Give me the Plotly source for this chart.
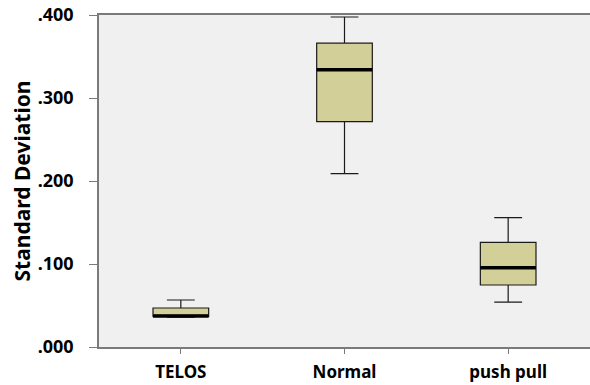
import plotly.graph_objects as go

categories = ["TELOS", "Normal", "push pull"]
lower_whisker = [0.036, 0.209, 0.054]
q1_values = [0.037, 0.2715, 0.0747]
median_values = [0.0375, 0.334, 0.0956]
q3_values = [0.047, 0.366, 0.126]
upper_whisker = [0.0566, 0.3976, 0.1558]

y_tick_vals = [0.0, 0.1, 0.2, 0.3, 0.4]
y_tick_text = [".000", ".100", ".200", ".300", ".400"]

BOX_W = 0.34
FONT = "Noto Sans"

fig = go.Figure()
fig.add_trace(go.Box(
    x=categories,
    q1=q1_values, median=median_values, q3=q3_values,
    lowerfence=lower_whisker, upperfence=upper_whisker,
    fillcolor="#D3CF98",
    line=dict(color="#1a1a1a", width=1.2),
    width=BOX_W,
    whiskerwidth=0.5,
    boxpoints=False,
    hoverinfo="skip",
    showlegend=False,
))

for i, m in enumerate(median_values):
    fig.add_shape(type="line", xref="x", yref="y",
                  x0=i - BOX_W / 2, x1=i + BOX_W / 2, y0=m, y1=m,
                  line=dict(color="black", width=3.5))

fig.update_layout(
    width=590, height=385,
    margin=dict(l=99, r=0, t=15, b=38),
    paper_bgcolor="white",
    plot_bgcolor="#F0F0F0",
    font=dict(family=FONT, color="black"),
)
fig.update_xaxes(
    type="category",
    range=[-0.5, 2.5],
    showgrid=False, zeroline=False,
    showline=True, linecolor="#7a7a7a", linewidth=1.5, mirror=True,
    ticks="outside", ticklen=5, tickcolor="#7a7a7a",
    ticklabelstandoff=4,
    tickfont=dict(family=FONT, size=17, weight="bold", color="black"),
)
fig.update_yaxes(
    range=[0, 0.4],
    tickvals=y_tick_vals, ticktext=y_tick_text,
    showgrid=False, zeroline=False,
    showline=True, linecolor="#7a7a7a", linewidth=1.5,
    ticks="outside", ticklen=8, tickcolor="#7a7a7a",
    ticklabelstandoff=12, ticklabeloverflow="allow",
    tickfont=dict(family=FONT, size=18, weight="bold", color="black"),
    title=dict(text="Standard Deviation", font=dict(family=FONT, size=21, weight="bold", color="black"), standoff=1),
)

fig.write_html("out.html", config={"displayModeBar": False},
               post_script="document.body.style.margin='0';document.body.style.overflow='hidden';")
